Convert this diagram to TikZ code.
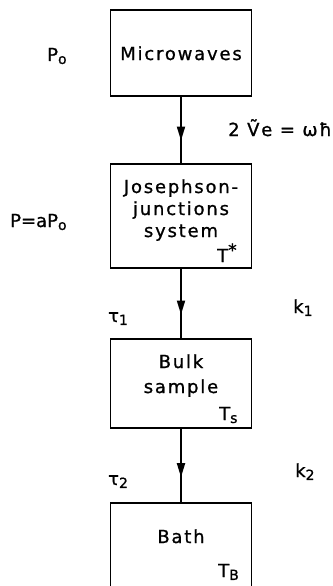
\documentclass[tikz,border=0pt]{standalone}
\usepackage{fontspec}
\setmainfont{DejaVu Sans}[LetterSpace=10,FakeBold=1]
\newfontfamily\tightfont{DejaVu Sans}[LetterSpace=0,FakeBold=1]
\usetikzlibrary{arrows.meta,decorations.markings}
\newcommand{\lowsub}[1]{\raisebox{-0.3ex}{\fontsize{14}{14}\selectfont #1}}
\newcommand{\highsup}[1]{\raisebox{0.6ex}{\fontsize{17}{17}\selectfont #1}}
\begin{document}
\begin{tikzpicture}[x=1pt,y=-1pt,
  every node/.style={font=\fontsize{18}{21}\selectfont, inner sep=0pt},
  box/.style={draw, line width=1.8pt, minimum width=141pt},
  ctext/.style={anchor=base},
  ltext/.style={anchor=base west},
  conn/.style={line width=1.8pt,
    decoration={markings, mark=at position 0.66 with {\arrow{Triangle[length=14pt,width=8pt]}}},
    postaction={decorate}}]
\useasboundingbox (0,0) rectangle (332,586);
\clip (0,0) rectangle (332,586);
% boxes
\node[box, minimum height=86pt] (mw) at (181,53) {};
\node[box, minimum height=104pt] (js) at (181,216) {};
\node[box, minimum height=89pt] (bs) at (181,383.5) {};
\node[box, minimum height=117pt] (bt) at (181,561.5) {};
% connectors
\draw[conn] (mw.south) -- (js.north);
\draw[conn] (js.south) -- (bs.north);
\draw[conn] (bs.south) -- (bt.north);
% box texts
\node[ctext] (t1) at (181,60) {Microwaves};
\node[ctext] (t2a) at (181,193) {Josephson-};
\node[ctext] (t2b) at (181,215) {junctions};
\node[ctext] (t2c) at (181,237) {system};
\node[ltext] (tstar) at (217,262) {T\highsup{*}};
\node[ctext] (t3a) at (181,368) {Bulk};
\node[ctext] (t3b) at (181,393) {sample};
\node[ltext] (ts) at (219,420) {T\lowsub{s}};
\node[ctext] (t4) at (181,543) {Bath};
\node[ltext] (tb) at (218,577) {T\lowsub{B}};
% side labels
\node[ltext] (p0) at (47,61) {P\lowsub{o}};
\node[ltext, font=\fontsize{18}{21}\tightfont] (pa) at (10,227) {P=aP\lowsub{o}};
\node[ltext] (ve) at (228,136) {2 Ṽe = ωħ};
\node[ltext] (tau1) at (108,322) {τ\lowsub{1}};
\node[ltext] (k1) at (293,313) {k\lowsub{1}};
\node[ltext] (tau2) at (108,485) {τ\lowsub{2}};
\node[ltext] (k2) at (295,477) {k\lowsub{2}};
\end{tikzpicture}
\end{document}
